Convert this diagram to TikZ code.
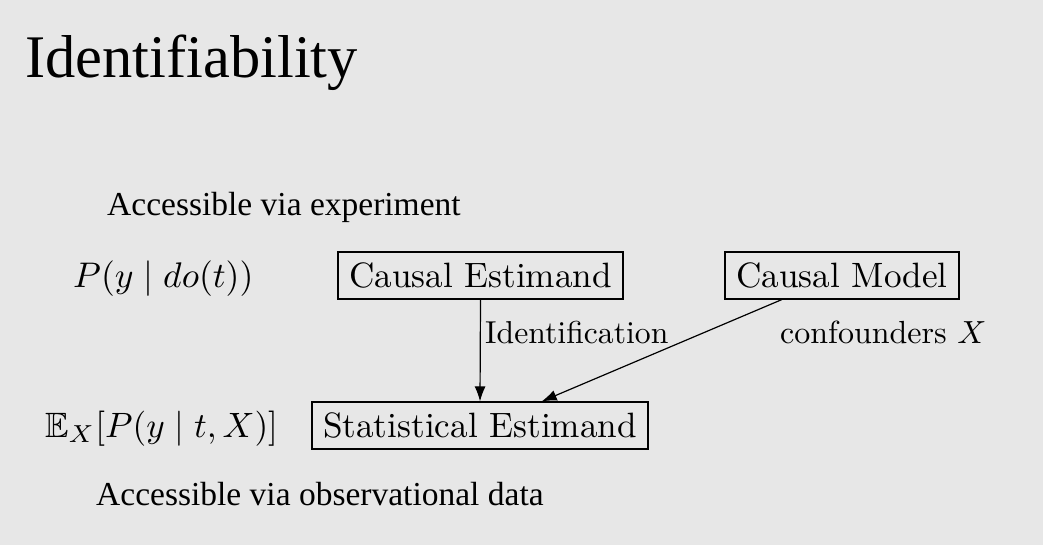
\documentclass[tikz,border=0pt]{standalone}
\usepackage{amssymb}
\usepackage{fontspec}
\newfontfamily\garafont{Liberation Serif}
\usetikzlibrary{arrows.meta,calc}
\definecolor{bgc}{RGB}{231,231,231}
\newcommand{\bigmath}[2]{\scalebox{#1}{\fontsize{10}{12}\selectfont$#2$}}
\newcommand{\bigtext}[2]{\scalebox{#1}{\fontsize{10}{12}\selectfont #2}}
\tikzset{
  boxnode/.style={draw=black, line width=1.2pt, fill=none, inner sep=0pt, minimum height=47pt},
  garatext/.style={anchor=base west, inner sep=0pt, font=\garafont\fontsize{33.5}{40}\selectfont},
  mathtext/.style={anchor=base west, inner sep=0pt},
  labeltext/.style={anchor=base west, inner sep=0pt},
  conn/.style={line width=1.2pt, -{Latex[length=15pt,width=11pt]}}
}
\begin{document}
\begin{tikzpicture}[x=1pt,y=-1pt]
\fill[bgc] (0,0) rectangle (1043,545);
\useasboundingbox (0,0) rectangle (1043,545);
\node[anchor=base west, inner sep=0pt, font=\garafont\fontsize{60.5}{70}\selectfont] (title) at (25,78) {Identifiability};
\node[garatext] (acc1) at (107,216) {Accessible via experiment};
\node[garatext] (acc2) at (96,505) {Accessible via observational data};
\node[mathtext] (pdo) at (73,287) {\bigmath{3.56}{P(y \mid do(t))}};
\node[mathtext] (ex) at (45,437) {\bigmath{3.52}{\mathbb{E}_X[P(y \mid t, X)]}};
\node[boxnode, minimum width=285pt] (ce) at (480.5,275.5) {\bigtext{3.52}{Causal Estimand}};
\node[boxnode, minimum width=234pt] (cm) at (842,275.5) {\bigtext{3.52}{Causal Model}};
\node[boxnode, minimum width=336pt] (se) at (480,425.5) {\bigtext{3.52}{Statistical Estimand}};
\node[labeltext] (ident) at (485,343) {\bigtext{3.17}{Identification}};
\node[labeltext] (conf) at (780,343) {\bigtext{3.2}{confounders $X$}};
\draw[conn] (ce.south) -- (se.north);
\draw[conn] ($(cm.south west)!0.244!(cm.south east)$) -- ($(se.north west)!0.683!(se.north east)$);
\end{tikzpicture}
\end{document}
